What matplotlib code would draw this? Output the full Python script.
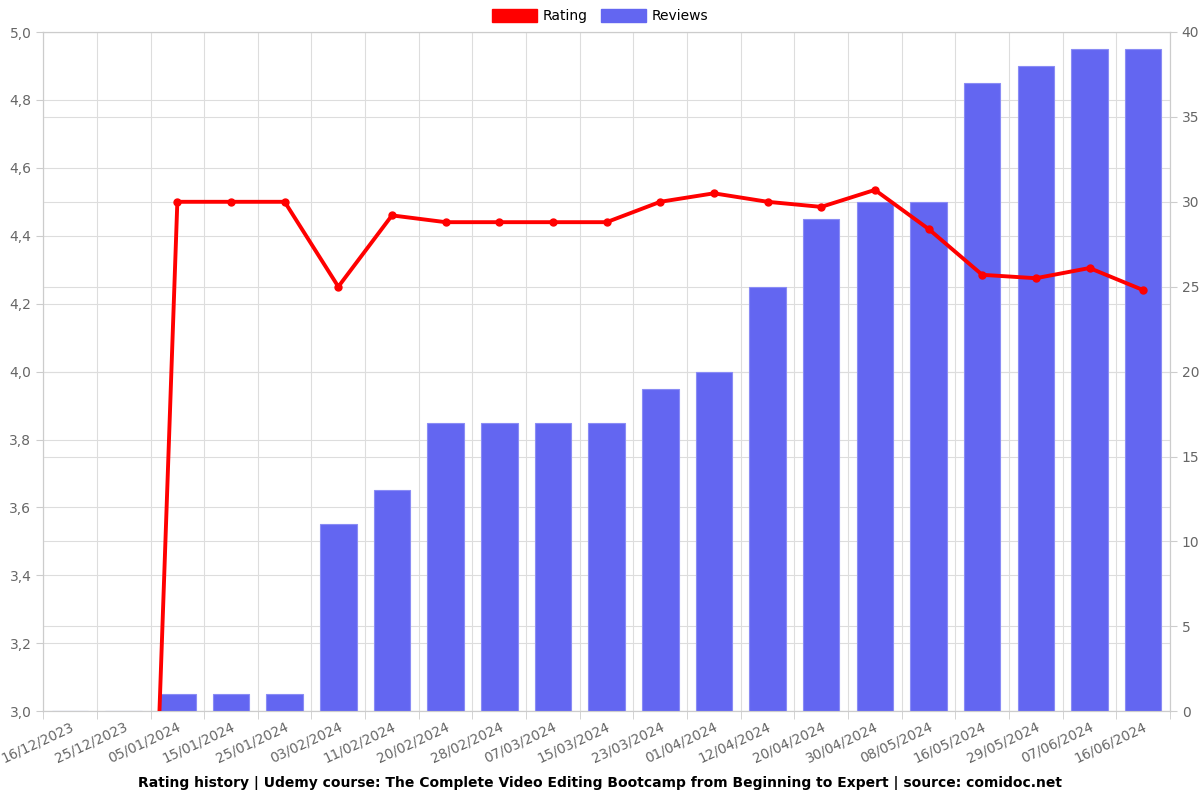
import numpy as np
import matplotlib
matplotlib.use("Agg")
from matplotlib import pyplot as plt
from matplotlib.patches import Patch
from matplotlib.ticker import FuncFormatter, MultipleLocator

# Data
dates = ["16/12/2023", "25/12/2023", "05/01/2024", "15/01/2024", "25/01/2024",
         "03/02/2024", "11/02/2024", "20/02/2024", "28/02/2024", "07/03/2024",
         "15/03/2024", "23/03/2024", "01/04/2024", "12/04/2024", "20/04/2024",
         "30/04/2024", "08/05/2024", "16/05/2024", "29/05/2024", "07/06/2024",
         "16/06/2024"]
reviews = [0, 0, 1, 1, 1, 11, 13, 17, 17, 17, 17, 19, 20, 25, 29, 30, 30, 37, 38, 39, 39]
rating = [0, 0, 4.5, 4.5, 4.5, 4.25, 4.46, 4.44, 4.44, 4.44, 4.44, 4.5, 4.525,
          4.5, 4.485, 4.535, 4.42, 4.285, 4.275, 4.305, 4.24]

title = ("Rating history | Udemy course: The Complete Video Editing Bootcamp "
         "from Beginning to Expert | source: comidoc.net")

bar_color = "#6366F1"
line_color = "#FF0000"
grid_color = "#DDDDDD"
text_color = "#666666"

fig = plt.figure(figsize=(12, 8), dpi=100)
rect = [0.036, 0.111, 0.939, 0.849]
ax = fig.add_axes(rect)          # left scale + grid (bottom layer)
ax2 = ax.twinx()                 # reviews bars
x = np.arange(len(dates))

ax.set_ylim(3.0, 5.0)
ax.set_xlim(-0.5, len(dates) - 0.5)
ax.yaxis.set_major_locator(MultipleLocator(0.2))
ax.yaxis.set_major_formatter(FuncFormatter(lambda v, p: f"{v:.1f}".replace(".", ",")))
ax.grid(axis="y", color=grid_color, linewidth=0.8)
ax.set_axisbelow(True)

# x ticks: labels at centres, tick marks and vertical grid at boundaries
ax.set_xticks(x)
ax.set_xticklabels(dates, rotation=25, ha="right", rotation_mode="anchor")
ax.tick_params(axis="x", which="major", length=0, pad=6, labelcolor=text_color, labelsize=9.8)
ax.set_xticks(np.arange(-0.5, len(dates)), minor=True)
ax.tick_params(axis="x", which="minor", length=6, color="#cccccc")
ax.grid(axis="x", which="minor", color=grid_color, linewidth=0.8)

ax2.bar(x, reviews, width=0.68, color=bar_color, edgecolor="#8a8cf5", linewidth=0.8, zorder=2)
ax2.set_ylim(0, 40)
ax2.yaxis.set_major_locator(MultipleLocator(5))
ax2.grid(axis="y", color=grid_color, linewidth=0.8, zorder=0)
ax2.set_axisbelow(True)

# rating line on its own top layer, sharing the left scale
ax3 = fig.add_axes(rect, sharex=ax, sharey=ax)
ax3.patch.set_visible(False)
ax3.axis("off")
ax3.plot(x, rating, color=line_color, linewidth=2.8, marker="o", markersize=5, zorder=5)

for a in (ax, ax2):
    for s in a.spines.values():
        s.set_color("#cccccc")
    a.tick_params(axis="y", labelcolor=text_color, labelsize=10, length=5, color="#cccccc")

handles = [Patch(color=line_color, label="Rating"), Patch(color=bar_color, label="Reviews")]
fig.legend(handles=handles, loc="upper center", bbox_to_anchor=(0.5, 1.005), ncol=2,
           frameon=False, fontsize=10, handlelength=3.2, handleheight=1.1, columnspacing=1.0,
           handletextpad=0.4)

fig.text(0.5, 0.012, title, ha="center", va="bottom", fontsize=10, fontweight="bold")

fig.savefig("out.png", dpi=100)
